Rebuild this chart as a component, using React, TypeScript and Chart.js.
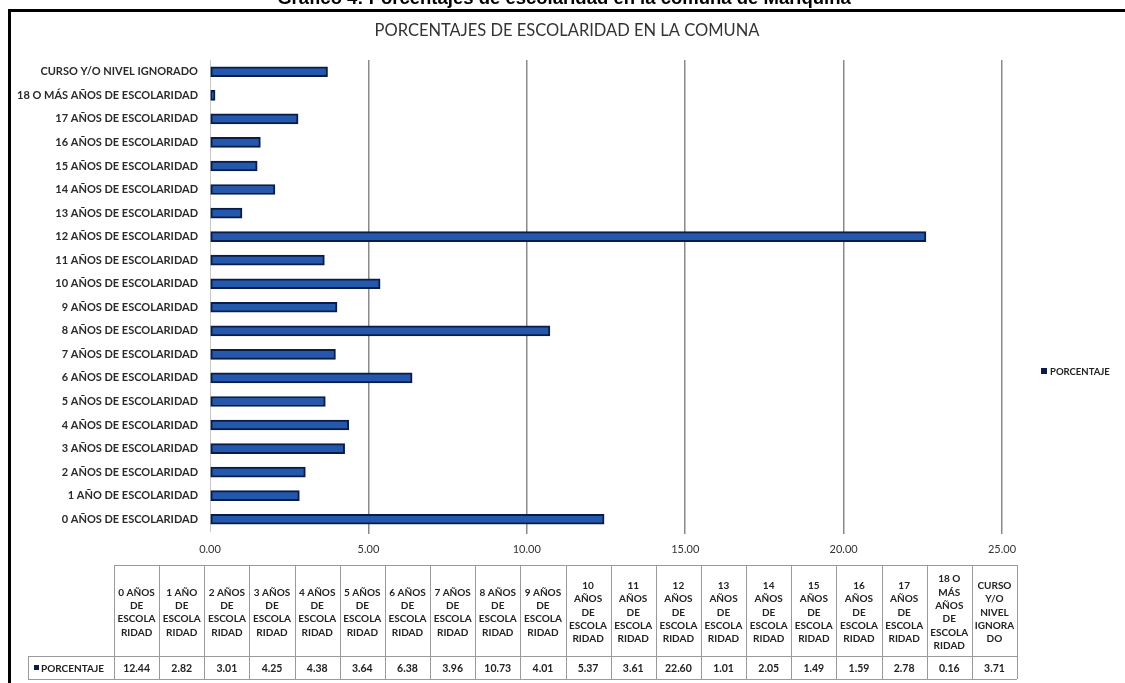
import React, { useEffect, useRef } from "react";
import { Chart, registerables } from "chart.js";

Chart.register(...registerables);

const categories = [
  "0 AÑOS DE ESCOLARIDAD",
  "1 AÑO DE ESCOLARIDAD",
  "2 AÑOS DE ESCOLARIDAD",
  "3 AÑOS DE ESCOLARIDAD",
  "4 AÑOS DE ESCOLARIDAD",
  "5 AÑOS DE ESCOLARIDAD",
  "6 AÑOS DE ESCOLARIDAD",
  "7 AÑOS DE ESCOLARIDAD",
  "8 AÑOS DE ESCOLARIDAD",
  "9 AÑOS DE ESCOLARIDAD",
  "10 AÑOS DE ESCOLARIDAD",
  "11 AÑOS DE ESCOLARIDAD",
  "12 AÑOS DE ESCOLARIDAD",
  "13 AÑOS DE ESCOLARIDAD",
  "14 AÑOS DE ESCOLARIDAD",
  "15 AÑOS DE ESCOLARIDAD",
  "16 AÑOS DE ESCOLARIDAD",
  "17 AÑOS DE ESCOLARIDAD",
  "18 O MÁS AÑOS DE ESCOLARIDAD",
  "CURSO Y/O NIVEL IGNORADO",
];

const tableHeaders = [
  ["0 AÑOS", "DE", "ESCOLA", "RIDAD"],
  ["1 AÑO", "DE", "ESCOLA", "RIDAD"],
  ["2 AÑOS", "DE", "ESCOLA", "RIDAD"],
  ["3 AÑOS", "DE", "ESCOLA", "RIDAD"],
  ["4 AÑOS", "DE", "ESCOLA", "RIDAD"],
  ["5 AÑOS", "DE", "ESCOLA", "RIDAD"],
  ["6 AÑOS", "DE", "ESCOLA", "RIDAD"],
  ["7 AÑOS", "DE", "ESCOLA", "RIDAD"],
  ["8 AÑOS", "DE", "ESCOLA", "RIDAD"],
  ["9 AÑOS", "DE", "ESCOLA", "RIDAD"],
  ["10", "AÑOS", "DE", "ESCOLA", "RIDAD"],
  ["11", "AÑOS", "DE", "ESCOLA", "RIDAD"],
  ["12", "AÑOS", "DE", "ESCOLA", "RIDAD"],
  ["13", "AÑOS", "DE", "ESCOLA", "RIDAD"],
  ["14", "AÑOS", "DE", "ESCOLA", "RIDAD"],
  ["15", "AÑOS", "DE", "ESCOLA", "RIDAD"],
  ["16", "AÑOS", "DE", "ESCOLA", "RIDAD"],
  ["17", "AÑOS", "DE", "ESCOLA", "RIDAD"],
  ["18 O", "MÁS", "AÑOS", "DE", "ESCOLA", "RIDAD"],
  ["CURSO", "Y/O", "NIVEL", "IGNORA", "DO"],
];

const porcentaje = [
  12.44, 2.82, 3.01, 4.25, 4.38, 3.64, 6.38, 3.96, 10.73, 4.01, 5.37, 3.61,
  22.6, 1.01, 2.05, 1.49, 1.59, 2.78, 0.16, 3.71,
];

const seriesName = "PORCENTAJE";
const chartTitle = "PORCENTAJES DE ESCOLARIDAD EN LA COMUNA";
const pageHeading = "Gráfico 4: Porcentajes de escolaridad en la comuna de Mariquina";

const FONT = "Lato, 'Open Sans', sans-serif";
const BAR_FILL = "#2358ad";
const BAR_EDGE = "#0b1c48";

const decorPlugin = {
  id: "decor",
  afterDraw(chart: any) {
    const ctx = chart.ctx as CanvasRenderingContext2D;
    const area = chart.chartArea;
    ctx.save();

    // page heading (cut off at top)
    ctx.fillStyle = "#000";
    ctx.font = `bold 18.5px 'Liberation Sans', Arial, sans-serif`;
    ctx.textAlign = "center";
    ctx.textBaseline = "alphabetic";
    ctx.fillText(pageHeading, 564, 4);

    // frame
    ctx.fillStyle = "#000";
    ctx.fillRect(8, 9, 1125 - 8, 3);
    ctx.fillRect(8, 9, 3, 683);

    // chart title
    ctx.fillStyle = "#333";
    ctx.font = `16.5px ${FONT}`;
    ctx.textBaseline = "middle";
    ctx.fillText(chartTitle, 567, 31);

    // legend
    ctx.fillStyle = BAR_EDGE;
    ctx.fillRect(1041, 368, 6, 6);
    ctx.fillStyle = "#222";
    ctx.font = `bold 9.5px ${FONT}`;
    ctx.textAlign = "left";
    ctx.fillText(seriesName, 1050, 371.5);

    // data table
    const tRight = area.right + 15;
    const tLeft = 114;
    const labelLeft = 28;
    const top = 565;
    const mid = 656;
    const bottom = 679;
    const n = porcentaje.length;
    const colW = (tRight - tLeft) / n;

    ctx.strokeStyle = "#9a9a9a";
    ctx.lineWidth = 1;
    ctx.beginPath();
    ctx.moveTo(tLeft, top + 0.5);
    ctx.lineTo(tRight, top + 0.5);
    ctx.moveTo(labelLeft, mid + 0.5);
    ctx.lineTo(tRight, mid + 0.5);
    ctx.moveTo(labelLeft, bottom + 0.5);
    ctx.lineTo(tRight, bottom + 0.5);
    for (let i = 0; i <= n; i++) {
      const x = Math.round(tLeft + i * colW) + 0.5;
      ctx.moveTo(x, top);
      ctx.lineTo(x, bottom);
    }
    ctx.moveTo(labelLeft + 0.5, mid);
    ctx.lineTo(labelLeft + 0.5, bottom);
    ctx.stroke();

    // header texts
    ctx.fillStyle = "#222";
    ctx.textAlign = "center";
    ctx.textBaseline = "middle";
    ctx.font = `bold 10px ${FONT}`;
    const lh = 13.3;
    for (let i = 0; i < n; i++) {
      const cx = tLeft + (i + 0.5) * colW;
      const lines = tableHeaders[i];
      const cy = (top + mid) / 2 + 2;
      const startY = cy - ((lines.length - 1) * lh) / 2;
      lines.forEach((ln, j) => ctx.fillText(ln, cx, startY + j * lh));
    }
    // value texts
    ctx.font = `bold 10.5px ${FONT}`;
    for (let i = 0; i < n; i++) {
      const cx = tLeft + (i + 0.5) * colW;
      ctx.fillText(porcentaje[i].toFixed(2), cx, (mid + bottom) / 2 + 1);
    }
    // label cell
    ctx.fillStyle = BAR_EDGE;
    ctx.fillRect(labelLeft + 6, (mid + bottom) / 2 - 2.5, 5, 5);
    ctx.fillStyle = "#222";
    ctx.textAlign = "left";
    ctx.font = `bold 10px ${FONT}`;
    ctx.fillText(seriesName, labelLeft + 13, (mid + bottom) / 2 + 1);

    ctx.restore();
  },
};

export default function App() {
  const ref = useRef<HTMLCanvasElement | null>(null);

  useEffect(() => {
    if (!ref.current) return;
    const chart = new Chart(ref.current, {
      type: "bar",
      data: {
        labels: categories,
        datasets: [
          {
            label: seriesName,
            data: porcentaje,
            backgroundColor: BAR_FILL,
            borderColor: BAR_EDGE,
            borderWidth: 2,
            borderSkipped: false,
            barThickness: 10,
          },
        ],
      },
      options: {
        indexAxis: "y",
        animation: false,
        responsive: false,
        maintainAspectRatio: false,
        layout: { padding: { left: 0, right: 123, top: 60, bottom: 122 } },
        plugins: {
          legend: { display: false },
          title: { display: false },
          tooltip: { enabled: false },
        },
        scales: {
          x: {
            type: "linear",
            min: 0,
            max: 25,
            afterFit: (s: any) => {
              s.height = 30;
            },
            ticks: {
              stepSize: 5,
              padding: 9,
              color: "#333",
              font: { family: FONT, size: 11 },
              callback: (v: any) => Number(v).toFixed(2),
            },
            grid: {
              color: (c: any) => (c.tick && c.tick.value === 0 ? "rgba(0,0,0,0)" : "#8a8a8a"),
              lineWidth: 1.5,
              tickLength: 3,
              drawTicks: true,
            },
            border: { display: false },
          },
          y: {
            reverse: true,
            afterFit: (s: any) => {
              s.width = 210;
            },
            ticks: {
              padding: 12,
              color: "#2a2a2a",
              font: { family: FONT, size: 11, weight: "bold" },
            },
            grid: { display: false, drawTicks: false },
            border: { display: true, color: "#c8c8c8", width: 1, dash: [3, 3] },
          },
        },
      },
      plugins: [decorPlugin],
    });
    return () => chart.destroy();
  }, []);

  return (
    <div
      style={{
        position: "fixed",
        left: 0,
        top: 0,
        width: 1125,
        height: 683,
        overflow: "hidden",
        background: "#fff",
      }}
    >
      <canvas ref={ref} width={1125} height={683} style={{ display: "block" }} />
    </div>
  );
}
